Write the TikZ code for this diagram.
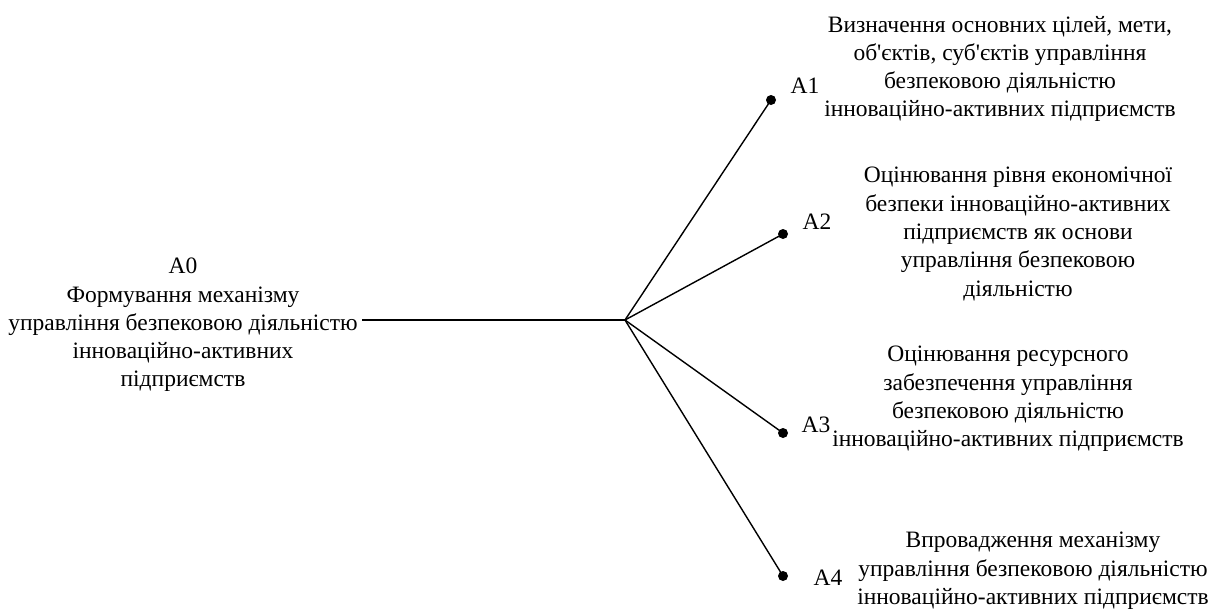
\documentclass[tikz,border=0pt]{standalone}
\usepackage{fontspec}
\newfontfamily\tnr{Liberation Serif}
\begin{document}
\begin{tikzpicture}[x=1pt,y=-1pt,
  txt/.style={align=center,inner sep=0pt,font=\tnr\fontsize{23.5}{28.3}\selectfont},
  lbl/.style={inner sep=0pt,font=\tnr\fontsize{23.5}{28.3}\selectfont},
  ln/.style={line width=1.4pt},
  dotn/.style={circle,fill=black,inner sep=0pt,minimum size=10pt}]
\useasboundingbox (0,0) rectangle (1211,614);
\node[txt] (t0) at (183,325) {A0\\Формування механізму\\управління безпековою діяльністю\\інноваційно-активних\\підприємств};
\coordinate (s0) at (362,320);
\coordinate (hub) at (625,320);
\node[dotn] (d1) at (771,100) {};
\node[dotn] (d2) at (783,234) {};
\node[dotn] (d3) at (783,433) {};
\node[dotn] (d4) at (783,576) {};
\draw[ln] (s0) -- (hub);
\draw[ln] (hub) -- (d1.center);
\draw[ln] (hub) -- (d2.center);
\draw[ln] (hub) -- (d3.center);
\draw[ln] (hub) -- (d4.center);
\node[lbl] (l1) at (805,86) {A1};
\node[lbl] (l2) at (817,222) {A2};
\node[lbl] (l3) at (816,425) {A3};
\node[lbl] (l4) at (828,578) {A4};
\node[txt] (t1) at (1000,69) {Визначення основних цілей, мети,\\об'єктів, суб'єктів управління\\безпековою діяльністю\\інноваційно-активних підприємств};
\node[txt] (t2) at (1018,234) {Оцінювання рівня економічної\\безпеки інноваційно-активних\\підприємств як основи\\управління безпековою\\діяльністю};
\node[txt] (t3) at (1008,399) {Оцінювання ресурсного\\забезпечення управління\\безпековою діяльністю\\інноваційно-активних підприємств};
\node[txt] (t4) at (1033,571) {Впровадження механізму\\управління безпековою діяльністю\\інноваційно-активних підприємств};
\end{tikzpicture}
\end{document}
